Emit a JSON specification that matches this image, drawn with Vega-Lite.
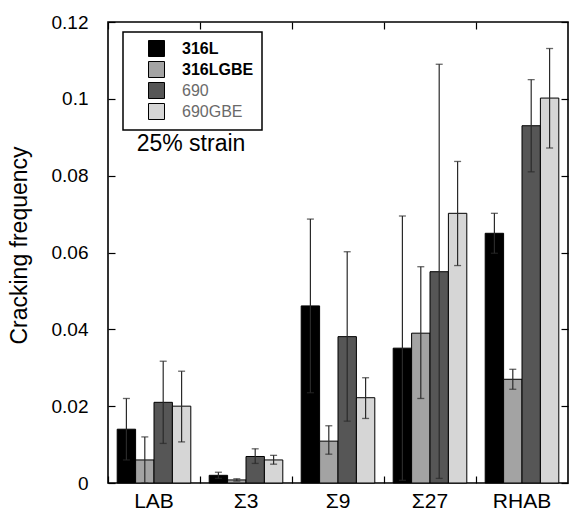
{
  "$schema": "https://vega.github.io/schema/vega-lite/v6.json",
  "autosize": {"type": "none"},
  "padding": {"left": 108, "top": 22, "right": 1, "bottom": 38},
  "width": 460,
  "height": 461,
  "config": {"font": "Liberation Sans", "view": {"stroke": "black", "strokeWidth": 1.6}},
  "data": {"values": [
    {"group": "LAB", "series": "316L", "value": 0.014, "lo": 0.006, "hi": 0.022},
    {"group": "LAB", "series": "316LGBE", "value": 0.006, "lo": 0.0, "hi": 0.012},
    {"group": "LAB", "series": "690", "value": 0.021, "lo": 0.0103, "hi": 0.0317},
    {"group": "LAB", "series": "690GBE", "value": 0.020, "lo": 0.0107, "hi": 0.0291},
    {"group": "Σ3", "series": "316L", "value": 0.002, "lo": 0.0012, "hi": 0.0028},
    {"group": "Σ3", "series": "316LGBE", "value": 0.0008, "lo": 0.0005, "hi": 0.0011},
    {"group": "Σ3", "series": "690", "value": 0.0069, "lo": 0.0051, "hi": 0.0089},
    {"group": "Σ3", "series": "690GBE", "value": 0.006, "lo": 0.0049, "hi": 0.0072},
    {"group": "Σ9", "series": "316L", "value": 0.0461, "lo": 0.0235, "hi": 0.0687},
    {"group": "Σ9", "series": "316LGBE", "value": 0.0109, "lo": 0.0075, "hi": 0.0149},
    {"group": "Σ9", "series": "690", "value": 0.0381, "lo": 0.0161, "hi": 0.0602},
    {"group": "Σ9", "series": "690GBE", "value": 0.0222, "lo": 0.0168, "hi": 0.0274},
    {"group": "Σ27", "series": "316L", "value": 0.0351, "lo": 0.0007, "hi": 0.0695},
    {"group": "Σ27", "series": "316LGBE", "value": 0.039, "lo": 0.022, "hi": 0.0563},
    {"group": "Σ27", "series": "690", "value": 0.055, "lo": 0.0012, "hi": 0.109},
    {"group": "Σ27", "series": "690GBE", "value": 0.0702, "lo": 0.0566, "hi": 0.0837},
    {"group": "RHAB", "series": "316L", "value": 0.065, "lo": 0.0598, "hi": 0.0702},
    {"group": "RHAB", "series": "316LGBE", "value": 0.027, "lo": 0.0244, "hi": 0.0296},
    {"group": "RHAB", "series": "690", "value": 0.093, "lo": 0.081, "hi": 0.105},
    {"group": "RHAB", "series": "690GBE", "value": 0.1002, "lo": 0.0872, "hi": 0.1131}
  ]},
  "layer": [
    {
      "mark": {"type": "bar", "stroke": "black", "strokeWidth": 1},
      "encoding": {
        "x": {"field": "group", "type": "nominal",
              "scale": {"domain": ["LAB", "Σ3", "Σ9", "Σ27", "RHAB"], "paddingInner": 0, "paddingOuter": 0},
              "axis": {"orient": "bottom", "title": null, "domain": false, "bandPosition": 0,
                       "tickSize": -7, "tickColor": "black", "tickWidth": 1.2, "labelPadding": 14, "labelAngle": 0,
                       "labelFontSize": 21, "labelColor": "black"}},
        "xOffset": {"field": "series", "type": "nominal", "scale": {"paddingInner": 0, "paddingOuter": 0.5}},
        "y": {"field": "value", "type": "quantitative", "scale": {"domain": [0, 0.12], "nice": false},
              "axis": {"orient": "left", "title": "Cracking frequency", "titleFontSize": 23, "titleFontWeight": "normal",
                       "titleColor": "black", "titlePadding": 20, "titleY": 223, "domain": false, "grid": false,
                       "values": [0, 0.02, 0.04, 0.06, 0.08, 0.1, 0.12], "format": ".2~f",
                       "tickSize": -7, "tickColor": "black", "tickWidth": 1.2, "labelPadding": 27,
                       "labelFontSize": 19, "labelColor": "black"}},
        "color": {"field": "series", "type": "nominal",
                  "scale": {"domain": ["316L", "316LGBE", "690", "690GBE"], "range": ["#000000", "#a3a3a3", "#565656", "#d6d6d6"]},
                  "legend": {"orient": "none", "legendX": 15, "legendY": 10, "title": null, "direction": "vertical",
                             "fillColor": "white", "strokeColor": "black", "padding": 8,
                             "symbolType": "square", "symbolSize": 256, "symbolStrokeColor": "black", "symbolStrokeWidth": 1,
                             "symbolOpacity": 1, "symbolOffset": 17, "labelOffset": 17, "rowPadding": 0,
                             "labelFontSize": 16, "labelLimit": 200,
                             "encode": {
                               "legend": {"update": {"strokeWidth": {"value": 1.5}}},
                               "labels": {"update": {
                               "fill": {"signal": "datum.value === '690' || datum.value === '690GBE' ? '#6a6a6a' : '#000000'"},
                               "fontWeight": {"signal": "datum.value === '690' || datum.value === '690GBE' ? 'normal' : 'bold'"}}}}}}
      }
    },
    {
      "mark": {"type": "rule", "color": "#2a2a2a", "strokeWidth": 1.2},
      "encoding": {
        "x": {"field": "group", "type": "nominal",
              "axis": {"orient": "top", "title": null, "domain": false, "labels": false, "bandPosition": 0,
                       "tickSize": -7, "tickColor": "black", "tickWidth": 1.2}},
        "xOffset": {"field": "series", "type": "nominal"},
        "y": {"field": "lo", "type": "quantitative",
              "axis": {"orient": "right", "title": null, "domain": false, "labels": false, "grid": false,
                       "values": [0, 0.02, 0.04, 0.06, 0.08, 0.1, 0.12], "tickSize": -7, "tickColor": "black", "tickWidth": 1.2}},
        "y2": {"field": "hi"}
      }
    },
    {
      "mark": {"type": "tick", "color": "#2a2a2a", "thickness": 1.3, "size": 7},
      "encoding": {
        "x": {"field": "group", "type": "nominal", "axis": null},
        "xOffset": {"field": "series", "type": "nominal"},
        "y": {"field": "hi", "type": "quantitative", "axis": null}
      }
    },
    {
      "mark": {"type": "tick", "color": "#2a2a2a", "thickness": 1.3, "size": 7},
      "encoding": {
        "x": {"field": "group", "type": "nominal", "axis": null},
        "xOffset": {"field": "series", "type": "nominal"},
        "y": {"field": "lo", "type": "quantitative", "axis": null}
      }
    },
    {
      "data": {"values": [{"label": "25% strain", "group": "LAB", "ypos": 0.0882}]},
      "mark": {"type": "text", "fontSize": 23, "color": "black", "dx": 37, "baseline": "middle", "align": "center"},
      "encoding": {
        "x": {"field": "group", "type": "nominal", "axis": null},
        "y": {"field": "ypos", "type": "quantitative", "axis": null},
        "text": {"field": "label"}
      }
    }
  ],
  "resolve": {"axis": {"x": "independent", "y": "independent"}}
}
